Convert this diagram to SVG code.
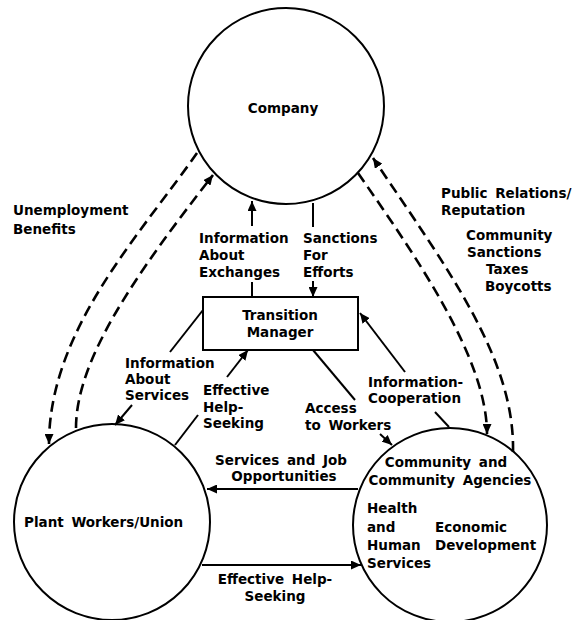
<svg xmlns="http://www.w3.org/2000/svg" width="586" height="620" viewBox="0 0 586 620">
  <style>
    .node { fill: none; stroke: #000; stroke-width: 2; }
    .box { fill: #fff; stroke: #000; stroke-width: 2; }
    .flow { fill: none; stroke: #000; stroke-width: 2; }
    .dash { fill: none; stroke: #000; stroke-width: 2.6; stroke-dasharray: 11 6; }
    text { font-family: "DejaVu Sans", "Liberation Sans", sans-serif; font-weight: bold; font-size: 13.5px; fill: #000; word-spacing: 3px; }
    .mid { text-anchor: middle; }
  </style>
  <defs>
    <marker id="arrow" markerUnits="userSpaceOnUse" markerWidth="11" markerHeight="9" refX="10" refY="4.5" orient="auto">
      <path d="M0,0 L10,4.5 L0,9 Z" fill="#000"/>
    </marker>
  </defs>
  <rect width="586" height="620" fill="#fff"/>

  <!-- connectors -->
  <g id="connectors">
    <!-- dashed exchanges between company and the two lower parties -->
    <path class="dash" d="M197,153 C140,235 49,330 49,444" marker-end="url(#arrow)"/>
    <path class="dash" d="M76,428 C76,360 135,275 213,175" marker-end="url(#arrow)"/>
    <path class="dash" d="M513,452 C515,360 450,272 373,158" marker-end="url(#arrow)"/>
    <path class="dash" d="M358,173 C420,262 487,360 487,434" marker-end="url(#arrow)"/>

    <!-- company / transition manager -->
    <line class="flow" x1="252" y1="226" x2="252" y2="201" marker-end="url(#arrow)"/>
    <line class="flow" x1="252" y1="282" x2="252" y2="297"/>
    <line class="flow" x1="313" y1="203" x2="313" y2="227"/>
    <line class="flow" x1="313" y1="281" x2="313" y2="297" marker-end="url(#arrow)"/>

    <!-- transition manager / plant workers -->
    <line class="flow" x1="203" y1="310" x2="170" y2="352"/>
    <line class="flow" x1="132" y1="405" x2="115" y2="425" marker-end="url(#arrow)"/>
    <line class="flow" x1="175" y1="445" x2="198" y2="415"/>
    <line class="flow" x1="227" y1="377" x2="248" y2="350" marker-end="url(#arrow)"/>

    <!-- transition manager / community -->
    <line class="flow" x1="313" y1="350" x2="355" y2="400"/>
    <line class="flow" x1="380" y1="434" x2="392" y2="445" marker-end="url(#arrow)"/>
    <line class="flow" x1="405" y1="372" x2="360" y2="313" marker-end="url(#arrow)"/>
    <line class="flow" x1="449" y1="427" x2="435" y2="412"/>

    <!-- plant workers / community -->
    <line class="flow" x1="358" y1="489" x2="207" y2="489" marker-end="url(#arrow)"/>
    <line class="flow" x1="202" y1="565" x2="361" y2="565" marker-end="url(#arrow)"/>
  </g>

  <!-- connector labels -->
  <g id="labels">
    <text x="13" y="215">Unemployment</text>
    <text x="13" y="234">Benefits</text>

    <text x="199" y="243">Information</text>
    <text x="199" y="260">About</text>
    <text x="199" y="277">Exchanges</text>

    <text x="303" y="243">Sanctions</text>
    <text x="303" y="260">For</text>
    <text x="303" y="277">Efforts</text>

    <text x="441" y="198" word-spacing="1">Public Relations/</text>
    <text x="441" y="215">Reputation</text>
    <text x="466" y="240">Community</text>
    <text x="467" y="257">Sanctions</text>
    <text x="486" y="274">Taxes</text>
    <text x="485" y="291">Boycotts</text>

    <text x="125" y="368">Information</text>
    <text x="125" y="384">About</text>
    <text x="125" y="400">Services</text>

    <text x="203" y="395">Effective</text>
    <text x="203" y="412">Help-</text>
    <text x="203" y="428">Seeking</text>

    <text x="305" y="413">Access</text>
    <text x="305" y="430">to Workers</text>

    <text x="368" y="387">Information-</text>
    <text x="368" y="403">Cooperation</text>

    <text class="mid" x="281" y="465" word-spacing="7">Services and Job</text>
    <text class="mid" x="284" y="481">Opportunities</text>

    <text class="mid" x="275" y="584" word-spacing="6">Effective Help-</text>
    <text class="mid" x="275" y="601">Seeking</text>
  </g>

  <!-- nodes -->
  <g id="company">
    <circle class="node" cx="286" cy="106" r="98"/>
    <text class="mid" x="283" y="113">Company</text>
  </g>

  <g id="transition-manager">
    <rect class="box" x="203" y="297" width="155" height="53"/>
    <text class="mid" x="280" y="320">Transition</text>
    <text class="mid" x="280" y="337">Manager</text>
  </g>

  <g id="plant-workers">
    <circle class="node" cx="112" cy="522" r="98"/>
    <text x="24" y="527" word-spacing="5">Plant Workers/Union</text>
  </g>

  <g id="community">
    <circle class="node" cx="450" cy="525" r="97"/>
    <text class="mid" x="446" y="467">Community and</text>
    <text class="mid" x="450" y="485">Community Agencies</text>
    <text x="367" y="513">Health</text>
    <text x="367" y="532">and</text>
    <text x="435" y="532">Economic</text>
    <text x="367" y="550">Human</text>
    <text x="435" y="550">Development</text>
    <text x="367" y="568">Services</text>
  </g>
</svg>
